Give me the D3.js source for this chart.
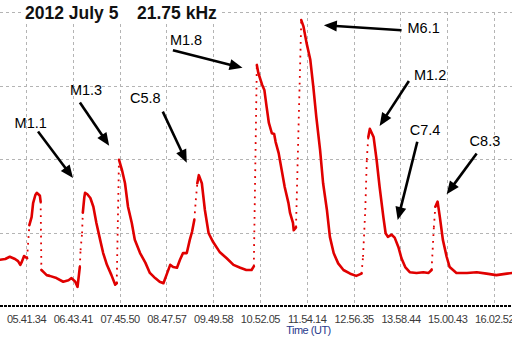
<!DOCTYPE html>
<html><head><meta charset="utf-8">
<script src="https://cdn.jsdelivr.net/npm/d3@7"></script>
<style>html,body{margin:0;padding:0;background:#fff;overflow:hidden}svg{display:block}</style>
</head><body><svg id="c" width="512" height="338"></svg>
<script>
// ---- data ----
const times = ["05:07","05:14","05:20","05:27","05:31","05:34","05:36","05:39","05:43","05:46",
"05:49","05:51","05:54","05:56","05:58","06:00","06:01","06:02","06:05","06:09",
"06:13","06:22","06:31","06:38","06:42","06:47","06:50","06:53","06:54","06:56",
"06:57","06:59","07:00","07:03","07:07","07:11","07:15","07:20","07:24","07:29",
"07:35","07:40","07:42","07:45","07:49","07:53","07:57","08:02","08:06","08:13",
"08:20","08:26","08:33","08:39","08:44","08:48","08:53","08:57","09:02","09:06",
"09:10","09:15","09:19","09:22","09:25","09:27","09:29","09:31","09:35","09:39",
"09:44","09:50","09:59","10:08","10:17","10:26","10:34","10:41","10:44","10:48",
"10:50","10:55","10:58","11:01","11:04","11:08","11:11","11:13","11:17","11:21",
"11:25","11:30","11:32","11:36","11:37","11:40","11:47","11:50","11:54","11:59",
"12:03","12:07","12:12","12:16","12:21","12:25","12:30","12:36","12:43","12:52",
"13:00","13:07","13:09","13:12","13:14","13:16","13:18","13:23","13:27","13:31",
"13:36","13:39","13:42","13:47","13:51","13:56","14:00","14:05","14:11","14:20",
"14:29","14:36","14:40","14:43","14:45","14:48","14:51","14:55","15:00","15:04",
"15:13","15:27","15:40","15:53","16:06","16:20","16:27"];
const amplitude = [6.3,6.4,6.7,6.4,6.1,5.6,6.0,6.8,6.5,11.0,
12.1,14.0,15.1,15.4,15.2,15.0,14.2,4.9,4.6,4.2,
4.1,3.8,3.3,3.5,3.8,3.3,2.6,5.3,7.6,9.9,
12.7,14.8,15.4,15.2,14.7,13.5,11.3,9.0,7.2,5.6,
4.2,2.9,3.1,19.9,18.5,16.7,13.5,11.3,9.0,7.2,
5.9,4.5,3.8,3.3,3.1,4.2,5.6,5.3,5.2,6.3,
7.2,7.2,9.0,10.1,11.7,14.4,16.7,17.8,16.7,13.1,
9.9,8.7,7.3,6.5,5.6,5.2,4.9,4.9,5.4,32.8,
31.7,30.1,29.4,27.1,24.9,23.5,23.4,22.3,20.8,18.5,
16.2,14.0,12.7,11.3,10.3,10.7,38.9,38.0,35.8,33.5,
29.8,25.7,21.2,16.7,13.1,9.4,7.2,5.8,4.9,4.4,
4.1,4.4,6.7,13.1,19.9,23.0,24.1,23.0,19.9,16.2,
12.1,9.9,9.4,9.7,9.3,8.0,6.5,5.3,4.6,4.5,
4.6,4.5,4.9,10.7,13.5,14.2,12.1,9.0,6.7,5.3,
4.5,4.5,4.6,4.4,4.2,4.4,4.5];
const tickTimes = ["05:41:34","06:43:41","07:45:50","08:47:57","09:49:58","10:52:05",
"11:54:14","12:56:35","13:58:44","15:00:43","16:02:52"];
const gridValues = [10,20,30,40];
const flareLabels = ["M1.1","M1.3","C5.8","M1.8","M6.1","M1.2","C7.4","C8.3"];
const arrowTipTimes = ["06:44","07:32","09:15","10:29","12:17","13:31","13:55","15:00"];
const arrowTipValues = [17.4,21.8,19.5,32.4,38.2,24.5,11.7,15.2];
const titleParts = ["2012 July 5","21.75 kHz"];
const axisTitle = "Time (UT)";

// ---- layout ----
const svg = d3.select("#c");
const W = 512, H = 338;
const day = "2012-07-05 ";
const pM = d3.utcParse("%Y-%m-%d %H:%M");
const pS = d3.utcParse("%Y-%m-%d %H:%M:%S");
const x = d3.scaleUtc()
  .domain([pS(day + tickTimes[0]), pS(day + tickTimes[tickTimes.length - 1])])
  .range([26, 494]);
const y = d3.scaleLinear().domain([0, 40]).range([306, 12]);

svg.append("rect").attr("width", W).attr("height", H).attr("fill", "#fff");

// grid
const g = svg.append("g").attr("stroke", "#b4b4b4").attr("stroke-width", 1)
  .attr("stroke-dasharray", "3,3").attr("fill", "none");
gridValues.forEach(v => g.append("line").attr("x1", 0).attr("x2", W)
  .attr("y1", Math.round(y(v)) + 0.5).attr("y2", Math.round(y(v)) + 0.5));
tickTimes.forEach(t => {
  const xx = Math.round(x(pS(day + t))) + 0.5;
  g.append("line").attr("x1", xx).attr("x2", xx).attr("y1", y(40)).attr("y2", y(0));
});

// x axis
const xAxis = d3.axisBottom(x)
  .tickValues(tickTimes.map(t => pS(day + t)))
  .tickFormat(d3.utcFormat("%H.%M.%S"))
  .tickSize(0).tickPadding(9);
const ax = svg.append("g").attr("transform", `translate(0,${y(0)})`).call(xAxis);
ax.select(".domain").remove();
ax.selectAll("text").attr("fill", "#3a3a3a")
  .style("font-family", "Arial, 'Liberation Sans', sans-serif")
  .style("font-size", "11px").style("letter-spacing", "-0.45px");
svg.append("line").attr("x1", 0).attr("x2", W).attr("y1", y(0)).attr("y2", y(0))
  .attr("stroke", "#000").attr("stroke-width", 2).attr("stroke-dasharray", "3,1");
svg.append("text").attr("x", 308.5).attr("y", 334).attr("text-anchor", "middle")
  .attr("fill", "#2a3a8c").style("font-family", "Arial, 'Liberation Sans', sans-serif")
  .style("font-size", "11px").style("letter-spacing", "-0.5px").text(axisTitle);

// data series
const pts = times.map((t, i) => [x(pM(day + t)), y(amplitude[i])]);
const line = d3.line();
let run = [pts[0]];
const solidRuns = [], steepSegs = [];
for (let i = 1; i < pts.length; i++) {
  const dx = Math.abs(pts[i][0] - pts[i - 1][0]);
  const dy = Math.abs(pts[i][1] - pts[i - 1][1]);
  const steep = dy > 6 && dy > 11 * dx;
  if (steep) {
    if (run.length > 1) solidRuns.push(run);
    steepSegs.push([pts[i - 1], pts[i]]);
    run = [pts[i]];
  } else run.push(pts[i]);
}
if (run.length > 1) solidRuns.push(run);
const red = "#e00000";
svg.append("g").selectAll("path").data(solidRuns).join("path")
  .attr("d", line).attr("fill", "none").attr("stroke", red)
  .attr("stroke-width", 2.6).attr("stroke-linejoin", "round").attr("stroke-linecap", "round");
svg.append("g").selectAll("path").data(steepSegs).join("path")
  .attr("d", line).attr("fill", "none").attr("stroke", red)
  .attr("stroke-width", 1.8).attr("stroke-dasharray", "1.8,5");

// annotations: tail and label offsets relative to arrow tip (pixels)
const tailOff = [[-35,-46.6],[-29.3,-43.3],[-24,-51],[-69.6,-17.7],[77.7,5],[29.3,-45],[19.6,-78.3],[30,-40.7]];
const labOff = [[-42.3,-50.3],[-23.1,-51],[-41.4,-59.7],[-56.5,-22.7],[99.8,8],[50.5,-45.7],[27.3,-85],[38.3,-48]];
const an = svg.append("g");
flareLabels.forEach((lab, i) => {
  const tx = x(pM(day + arrowTipTimes[i])), ty = y(arrowTipValues[i]);
  const sx = tx + tailOff[i][0], sy = ty + tailOff[i][1];
  const ang = Math.atan2(ty - sy, tx - sx);
  const L = 13, hw = 5.5;
  const bx = tx - L * Math.cos(ang), by = ty - L * Math.sin(ang);
  an.append("line").attr("x1", sx).attr("y1", sy).attr("x2", bx + 1 * Math.cos(ang)).attr("y2", by + 1 * Math.sin(ang))
    .attr("stroke", "#000").attr("stroke-width", 2.6);
  const px = -Math.sin(ang), py = Math.cos(ang);
  an.append("path").attr("d", `M${tx},${ty}L${bx + hw * px},${by + hw * py}L${bx - hw * px},${by - hw * py}Z`)
    .attr("fill", "#000");
  an.append("text").attr("x", tx + labOff[i][0]).attr("y", ty + labOff[i][1])
    .attr("text-anchor", "middle").attr("fill", "#000")
    .style("font-family", "Arial, 'Liberation Sans', sans-serif").style("font-size", "14.5px")
    .text(lab);
});

// title
svg.append("rect").attr("x", 22).attr("y", 3).attr("width", 198).attr("height", 18).attr("fill", "#fff");
const tf = s => s.style("font-family", "Arial, 'Liberation Sans', sans-serif")
  .style("font-size", "17.5px").style("font-weight", "bold").attr("fill", "#111");
tf(svg.append("text").attr("x", 25).attr("y", 19).text(titleParts[0]));
tf(svg.append("text").attr("x", 137).attr("y", 19).text(titleParts[1]));
</script></body></html>
